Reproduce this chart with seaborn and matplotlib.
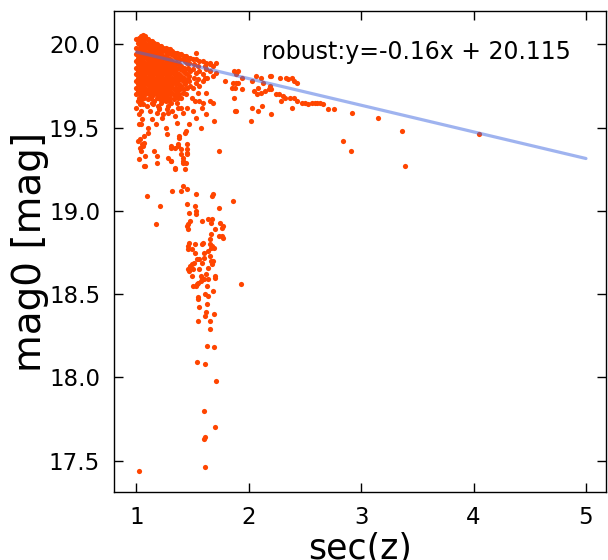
import numpy as np
import pandas as pd
import seaborn as sns
import matplotlib
matplotlib.use("Agg")
import matplotlib.pyplot as plt

# dense core of the cloud: sec(z) column -> mag0 values
core_sec = [1.00, 1.02, 1.04, 1.06, 1.08, 1.10, 1.12, 1.14, 1.16, 1.18, 1.20, 1.22,
            1.24, 1.26, 1.28, 1.30, 1.32, 1.34, 1.36, 1.38, 1.40, 1.42, 1.44, 1.46,
            1.48, 1.50, 1.53, 1.56, 1.59, 1.62, 1.65, 1.68]
core_mag = [
    [20.03, 19.98, 19.94, 19.90, 19.86, 19.82, 19.78, 19.74, 19.70, 19.62],
    [20.04, 20.00, 19.96, 19.92, 19.88, 19.84, 19.80, 19.76, 19.72, 19.68, 19.58],
    [20.05, 20.01, 19.97, 19.93, 19.89, 19.85, 19.81, 19.77, 19.73, 19.69, 19.52],
    [20.06, 20.02, 19.98, 19.95, 19.91, 19.87, 19.83, 19.79, 19.75, 19.71, 19.64],
    [20.05, 20.01, 19.97, 19.93, 19.89, 19.86, 19.82, 19.78, 19.74, 19.70],
    [20.03, 19.99, 19.95, 19.92, 19.88, 19.84, 19.80, 19.76, 19.72, 19.67],
    [20.02, 19.98, 19.94, 19.90, 19.86, 19.83, 19.79, 19.75, 19.71],
    [20.02, 19.97, 19.93, 19.89, 19.85, 19.81, 19.77, 19.73, 19.69, 19.55],
    [20.01, 19.96, 19.92, 19.88, 19.84, 19.80, 19.76, 19.72, 19.66],
    [20.00, 19.96, 19.91, 19.87, 19.83, 19.79, 19.75, 19.71, 19.68],
    [19.99, 19.95, 19.91, 19.86, 19.82, 19.78, 19.74, 19.70, 19.61],
    [19.99, 19.94, 19.90, 19.85, 19.81, 19.77, 19.73, 19.69],
    [19.98, 19.93, 19.89, 19.84, 19.80, 19.76, 19.72, 19.67, 19.58],
    [19.98, 19.93, 19.88, 19.84, 19.79, 19.75, 19.71, 19.66],
    [19.97, 19.92, 19.87, 19.83, 19.78, 19.74, 19.70, 19.63],
    [19.97, 19.91, 19.86, 19.82, 19.77, 19.73, 19.68],
    [19.96, 19.90, 19.85, 19.80, 19.76, 19.71, 19.60],
    [19.95, 19.89, 19.84, 19.79, 19.74, 19.69],
    [19.95, 19.89, 19.83, 19.78, 19.72, 19.65],
    [19.94, 19.88, 19.82, 19.76, 19.70],
    [19.94, 19.87, 19.81, 19.75, 19.68],
    [19.93, 19.86, 19.80, 19.73],
    [19.93, 19.85, 19.78, 19.70],
    [19.92, 19.86, 19.79],
    [19.92, 19.84, 19.75],
    [19.91, 19.85],
    [19.91, 19.83],
    [19.90, 19.84],
    [19.90, 19.82],
    [19.89, 19.85],
    [19.88, 19.84],
    [19.87],
]

# second, interleaved pass through the core (fills the gaps between columns)
core2_sec = [1.01, 1.03, 1.05, 1.07, 1.09, 1.11, 1.13, 1.15, 1.17, 1.19, 1.21, 1.23, 1.25,
             1.27, 1.29, 1.31, 1.33, 1.35, 1.37, 1.39, 1.41, 1.43, 1.45, 1.47, 1.51, 1.55, 1.61]
core2_mag = [
    [20.01, 19.96, 19.92, 19.88, 19.84, 19.80, 19.76, 19.72, 19.66],
    [20.02, 19.98, 19.94, 19.90, 19.86, 19.82, 19.78, 19.74, 19.70, 19.64],
    [20.03, 19.99, 19.95, 19.91, 19.87, 19.83, 19.79, 19.75, 19.71, 19.67],
    [20.04, 20.00, 19.96, 19.93, 19.89, 19.85, 19.81, 19.77, 19.73, 19.68],
    [20.03, 19.99, 19.95, 19.91, 19.87, 19.84, 19.80, 19.76, 19.72],
    [20.01, 19.97, 19.93, 19.90, 19.86, 19.82, 19.78, 19.74, 19.70],
    [20.00, 19.96, 19.92, 19.88, 19.84, 19.81, 19.77, 19.73, 19.68],
    [19.99, 19.95, 19.91, 19.87, 19.83, 19.79, 19.75, 19.71, 19.64],
    [19.98, 19.94, 19.90, 19.86, 19.82, 19.78, 19.74, 19.70],
    [19.98, 19.93, 19.89, 19.85, 19.81, 19.77, 19.73, 19.69, 19.63],
    [19.97, 19.93, 19.88, 19.84, 19.80, 19.76, 19.72, 19.67],
    [19.96, 19.92, 19.87, 19.83, 19.79, 19.75, 19.71, 19.66],
    [19.96, 19.91, 19.86, 19.82, 19.78, 19.73, 19.69],
    [19.95, 19.90, 19.86, 19.81, 19.77, 19.73, 19.68, 19.61],
    [19.95, 19.89, 19.85, 19.80, 19.76, 19.72, 19.66],
    [19.94, 19.88, 19.84, 19.79, 19.75, 19.70],
    [19.93, 19.87, 19.82, 19.78, 19.73, 19.67],
    [19.92, 19.86, 19.81, 19.76, 19.71],
    [19.92, 19.86, 19.80, 19.74, 19.68],
    [19.91, 19.85, 19.79, 19.73],
    [19.91, 19.84, 19.78, 19.71],
    [19.90, 19.83, 19.76],
    [19.89, 19.82, 19.74],
    [19.89, 19.81],
    [19.88, 19.80],
    [19.87, 19.79],
    [19.87, 19.80],
]

# scattered points below / beside the core
mid_sec = [1.07, 1.10, 1.27, 1.38, 1.43, 1.44, 1.03, 1.07, 1.06, 1.03, 1.04, 1.08, 1.02, 1.08,
           1.16, 1.18, 1.31, 1.34, 1.37, 1.37, 1.45, 1.45, 1.40, 1.40, 1.41, 1.45, 1.28, 1.31,
           1.34, 1.73, 1.01, 1.05, 1.31, 1.38, 1.45, 1.41,
           1.03, 1.04, 1.05, 1.09, 1.12, 1.14, 1.18, 1.20, 1.22, 1.23, 1.28, 1.31, 1.34, 1.37,
           1.47, 1.50, 1.53, 1.56, 1.59, 1.63, 1.68, 1.71, 1.55, 1.49, 1.52, 1.56, 1.62, 1.65,
           1.68, 1.45, 1.50, 1.58, 1.40, 1.41, 1.59, 1.53, 1.62, 1.26, 1.17, 1.10, 1.02, 1.36,
           1.47, 1.57, 1.69, 1.79, 1.71, 1.88, 1.65, 1.53]
mid_mag = [19.45, 19.47, 19.46, 19.45, 19.47, 19.48, 19.43, 19.41, 19.39, 19.38, 19.36, 19.33, 19.31, 19.27,
           19.36, 19.33, 19.39, 19.38, 19.39, 19.40, 19.40, 19.37, 19.37, 19.34, 19.32, 19.34, 19.32, 19.30,
           19.25, 19.36, 19.42, 19.40, 19.38, 19.44, 19.35, 19.30,
           19.66, 19.60, 19.55, 19.63, 19.60, 19.65, 19.59, 19.62, 19.65, 19.56, 19.59, 19.65, 19.57, 19.62,
           19.78, 19.74, 19.77, 19.75, 19.78, 19.80, 19.81, 19.83, 19.71, 19.68, 19.66, 19.66, 19.71, 19.66,
           19.65, 19.62, 19.60, 19.62, 19.62, 19.59, 19.65, 19.56, 19.58, 19.50, 19.52, 19.50, 19.52, 19.53,
           19.52, 19.50, 19.54, 19.78, 19.89, 19.60, 19.89, 19.95]

# the faint tail dropping towards 17.5 mag
tail_sec = [1.07, 1.18, 1.31, 1.34, 1.41, 1.44, 1.43, 1.41, 1.32, 1.40, 1.45, 1.53, 1.09, 1.67,
            1.68, 1.86, 1.21, 1.45, 1.52, 1.73, 1.47, 1.53, 1.53, 1.17, 1.46, 1.48, 1.45, 1.58,
            1.64, 1.67, 1.66, 1.74, 1.77, 1.76, 1.46, 1.70, 1.66, 1.73, 1.76, 1.77, 1.47, 1.46,
            1.52, 1.59, 1.58, 1.65, 1.65, 1.67, 1.66, 1.69, 1.46, 1.49, 1.52, 1.60, 1.64, 1.54,
            1.56, 1.60, 1.65, 1.66, 1.68, 1.49, 1.48, 1.51, 1.58, 1.67, 1.46, 1.47, 1.50, 1.56,
            1.64, 1.49, 1.57, 1.58, 1.62, 1.70, 1.70, 1.57, 1.55, 1.60, 1.64, 1.50, 1.53, 1.54,
            1.63, 1.93, 1.61, 1.64, 1.68, 1.55, 1.55, 1.63, 1.56, 1.62, 1.61, 1.69, 1.55, 1.65,
            1.65, 1.63, 1.69, 1.54, 1.61, 1.71, 1.60, 1.70, 1.60, 1.61, 1.61, 1.02]
tail_mag = [19.27, 19.29, 19.30, 19.26, 19.29, 19.29, 19.25, 19.15, 19.12, 19.12, 19.13, 19.10, 19.09, 19.09,
            19.10, 19.06, 19.03, 19.04, 19.03, 19.02, 18.99, 19.00, 18.98, 18.92, 18.92, 18.94, 18.91, 18.94,
            18.95, 18.95, 18.93, 18.93, 18.91, 18.90, 18.89, 18.89, 18.86, 18.85, 18.85, 18.84, 18.81, 18.79,
            18.80, 18.81, 18.80, 18.83, 18.80, 18.79, 18.78, 18.78, 18.77, 18.77, 18.75, 18.75, 18.76, 18.71,
            18.71, 18.72, 18.73, 18.70, 18.70, 18.68, 18.67, 18.69, 18.69, 18.68, 18.65, 18.64, 18.65, 18.65,
            18.66, 18.61, 18.61, 18.60, 18.62, 18.61, 18.60, 18.58, 18.57, 18.59, 18.59, 18.55, 18.55, 18.56,
            18.55, 18.56, 18.50, 18.49, 18.52, 18.48, 18.47, 18.44, 18.42, 18.39, 18.37, 18.38, 18.34, 18.34,
            18.29, 18.19, 18.18, 18.09, 18.08, 17.98, 17.80, 17.70, 17.63, 17.64, 17.46, 17.44]

# high-airmass wing
wing_sec = [1.87, 1.90, 1.89, 1.86, 1.89, 1.90, 1.85, 1.88, 1.94, 1.87, 1.89, 1.94, 2.06, 2.03,
            2.11, 2.13, 2.19, 2.20, 2.28, 2.33, 2.35, 2.38, 2.40, 2.43, 2.19, 2.05, 2.08, 2.07,
            2.14, 2.18, 2.20, 2.11, 2.24, 2.27, 2.30, 2.32, 2.29, 2.37, 2.40, 2.43, 2.47, 2.50,
            2.53, 2.56, 2.59, 2.61, 2.63, 2.66, 2.70, 2.76, 2.38, 2.12, 2.03, 2.08, 2.20, 2.02,
            2.92, 3.15, 3.36, 2.84, 2.91, 3.39, 4.05]
wing_mag = [19.84, 19.84, 19.82, 19.77, 19.77, 19.77, 19.74, 19.74, 19.73, 19.68, 19.60, 19.80, 19.81, 19.78,
            19.80, 19.77, 19.81, 19.81, 19.80, 19.80, 19.79, 19.80, 19.78, 19.77, 19.75, 19.72, 19.74, 19.70,
            19.72, 19.73, 19.73, 19.71, 19.70, 19.70, 19.69, 19.68, 19.66, 19.68, 19.68, 19.66, 19.65, 19.65,
            19.64, 19.65, 19.65, 19.65, 19.65, 19.64, 19.61, 19.61, 19.62, 19.63, 19.62, 19.60, 19.58, 19.54,
            19.59, 19.56, 19.48, 19.42, 19.36, 19.27, 19.46]

# robust fit quoted on the chart
fit_slope, fit_icpt = -0.16, 20.115
fit_sec = [1.0, 5.0]

sns.set_style("ticks")
plt.rcParams["font.family"] = ["DejaVu Sans"]
for key in ["text.color", "axes.labelcolor", "xtick.color", "ytick.color"]:
    plt.rcParams[key] = "black"

sec = ([s for s, ms in zip(core_sec, core_mag) for _ in ms]
       + [s for s, ms in zip(core2_sec, core2_mag) for _ in ms]
       + mid_sec + tail_sec + wing_sec)
mag = ([m for ms in core_mag for m in ms] + [m for ms in core2_mag for m in ms]
       + mid_mag + tail_mag + wing_mag)
df = pd.DataFrame({"sec": sec, "mag": mag})
fit = pd.DataFrame({"sec": fit_sec, "mag": [fit_slope * s + fit_icpt for s in fit_sec]})

fig = plt.figure(figsize=(6.08, 5.6), dpi=100)
ax = fig.add_axes([0.1875, 0.121, 0.8095, 0.859])
sns.scatterplot(data=df, x="sec", y="mag", ax=ax, color="#ff4500", s=14, linewidth=0)
sns.lineplot(data=fit, x="sec", y="mag", ax=ax, color="royalblue", alpha=0.5, lw=2.3)
ax.text(2.12, 19.955, f"robust:y={fit_slope}x + {fit_icpt}", fontsize=17, ha="left", va="center")

ax.set_xlim(0.8, 5.18)
ax.set_ylim(17.31, 20.2)
ax.set_xticks([1, 2, 3, 4, 5])
ax.set_yticks([17.5, 18.0, 18.5, 19.0, 19.5, 20.0])
ax.set_yticklabels(["17.5", "18.0", "18.5", "19.0", "19.5", "20.0"])
ax.tick_params(direction="in", top=True, right=True, length=6.5, width=1, labelsize=16.5, pad=10)
ax.set_xlabel("sec(z)", fontsize=25, labelpad=2)
ax.set_ylabel("mag0 [mag]", fontsize=28, labelpad=0)
for sp in ax.spines.values():
    sp.set_color("black")
    sp.set_linewidth(1)

fig.savefig("out.png", dpi=100)
